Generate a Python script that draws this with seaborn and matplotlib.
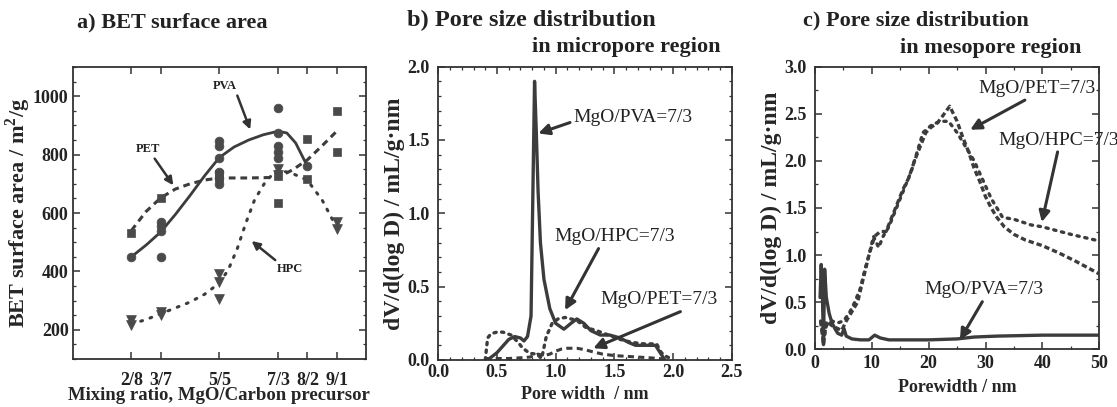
import numpy as np
import pandas as pd
import matplotlib
matplotlib.use("Agg")
import matplotlib.pyplot as plt
from matplotlib.ticker import MultipleLocator, FixedLocator, FormatStrFormatter
import seaborn as sns

# ---------------- Data ----------------
# Panel a: BET surface area vs mixing ratio (MgO fraction)
ratio_ticks = [0.2, 0.3, 0.5, 0.7, 0.8, 0.9]
ratio_labels = ["2/8", "3/7", "5/5", "7/3", "8/2", "9/1"]

pva_pts_x = [0.2, 0.3, 0.3, 0.3, 0.3, 0.5, 0.5, 0.5, 0.5, 0.5, 0.5, 0.7, 0.7, 0.7, 0.7, 0.7, 0.8]
pva_pts_y = [450, 570, 555, 540, 450, 845, 830, 790, 740, 720, 700, 960, 875, 830, 810, 790, 760]
pet_pts_x = [0.2, 0.3, 0.5, 0.5, 0.7, 0.7, 0.8, 0.8, 0.9, 0.9]
pet_pts_y = [533, 653, 735, 720, 727, 633, 852, 717, 949, 809]
hpc_pts_x = [0.2, 0.2, 0.3, 0.3, 0.5, 0.5, 0.5, 0.7, 0.7, 0.9, 0.9]
hpc_pts_y = [235, 215, 262, 252, 390, 365, 305, 750, 730, 570, 545]

pva_fit_x = [0.2, 0.25, 0.3, 0.35, 0.4, 0.45, 0.5, 0.55, 0.6, 0.65, 0.7, 0.73, 0.76, 0.8]
pva_fit_y = [450, 490, 535, 595, 660, 728, 790, 826, 850, 868, 880, 874, 840, 760]
pet_fit_x = [0.2, 0.25, 0.3, 0.35, 0.4, 0.45, 0.5, 0.6, 0.7, 0.75, 0.8, 0.85, 0.9]
pet_fit_y = [540, 605, 652, 682, 700, 713, 720, 720, 722, 748, 782, 830, 880]
hpc_fit_x = [0.2, 0.25, 0.3, 0.35, 0.4, 0.45, 0.5, 0.53, 0.56, 0.59, 0.62, 0.66, 0.7, 0.75, 0.8, 0.85, 0.9]
hpc_fit_y = [220, 235, 255, 275, 295, 322, 360, 405, 475, 565, 645, 712, 748, 735, 712, 645, 550]

# Panel b: micropore PSD
b_pva_x = [0.42, 0.5, 0.6, 0.65, 0.7, 0.73, 0.76, 0.79, 0.805, 0.82, 0.835, 0.85, 0.87, 0.9, 0.95, 1.0, 1.07,
           1.13, 1.18, 1.24, 1.3, 1.38, 1.46, 1.55, 1.62, 1.68, 1.75, 1.85, 1.89, 1.93]
b_pva_y = [0.0, 0.05, 0.14, 0.16, 0.15, 0.13, 0.16, 0.3, 1.1, 1.9, 1.55, 1.15, 0.8, 0.55, 0.35, 0.25, 0.21,
           0.25, 0.28, 0.25, 0.2, 0.17, 0.17, 0.15, 0.12, 0.1, 0.1, 0.1, 0.05, 0.0]
b_hpc_x = [0.4, 0.42, 0.45, 0.5, 0.55, 0.62, 0.68, 0.72, 0.78, 0.84, 0.88, 0.92, 0.97, 1.02, 1.08, 1.13,
           1.18, 1.26, 1.35, 1.45, 1.55, 1.65, 1.75, 1.86, 1.9, 1.95, 2.0]
b_hpc_y = [0.0, 0.15, 0.18, 0.19, 0.19, 0.17, 0.12, 0.08, 0.045, 0.04, 0.01, 0.16, 0.25, 0.28, 0.29, 0.28,
           0.27, 0.22, 0.2, 0.17, 0.14, 0.12, 0.11, 0.11, 0.05, 0.02, 0.01]
b_pet_x = [0.4, 0.5, 0.6, 0.7, 0.78, 0.85, 0.9, 0.95, 1.0, 1.05, 1.1, 1.18, 1.25, 1.32, 1.4, 1.5, 1.6, 1.7,
           1.8, 1.88, 1.95]
b_pet_y = [0.01, 0.01, 0.01, 0.015, 0.02, 0.04, 0.03, 0.04, 0.06, 0.075, 0.08, 0.08, 0.07, 0.055, 0.04, 0.03,
           0.025, 0.02, 0.015, 0.01, 0.0]

# Panel c: mesopore PSD
c_pva_x = [0.9, 1.1, 1.3, 1.5, 1.7, 2.0, 2.5, 3.0, 3.5, 4.0, 4.7, 5.1, 5.5, 6.5, 8.0, 9.5, 10.5, 11.5, 13,
           20, 25, 28, 32, 40, 50]
c_pva_y = [0.55, 0.9, 0.6, 0.05, 0.85, 0.55, 0.38, 0.28, 0.22, 0.17, 0.15, 0.22, 0.14, 0.11, 0.1, 0.1,
           0.15, 0.12, 0.1, 0.1, 0.11, 0.13, 0.14, 0.15, 0.15]
c_pet_x = [1.0, 1.5, 2.0, 3, 4, 4.7, 5.5, 6.5, 7.5, 8.5, 9.5, 10.5, 11.5, 12.5, 13.5, 14.5, 15.5, 16.5, 17.5,
           18.5, 19.5, 20.5, 21.5, 22.5, 23.7, 25, 26, 27, 28, 29, 30, 31, 32, 33.3, 35, 37, 40, 43, 46, 50]
c_pet_y = [0.3, 0.05, 0.3, 0.25, 0.22, 0.2, 0.3, 0.4, 0.5, 0.75, 1.0, 1.2, 1.25, 1.25, 1.4, 1.55, 1.7, 1.82,
           2.0, 2.15, 2.3, 2.36, 2.4, 2.48, 2.58, 2.42, 2.25, 2.1, 1.92, 1.78, 1.62, 1.5, 1.4, 1.3, 1.22,
           1.16, 1.1, 1.02, 0.93, 0.8]
c_hpc_x = [1.0, 1.5, 2.0, 3, 4, 5, 6, 7, 8, 8.8, 9.5, 10.3, 11.2, 12, 13, 14, 15, 16, 17, 18, 19, 20.5, 22,
           23.5, 25, 26.5, 28, 29.5, 31, 33, 35, 38, 40, 45, 50]
c_hpc_y = [0.3, 0.1, 0.25, 0.3, 0.28, 0.3, 0.38, 0.5, 0.65, 0.85, 1.0, 1.2, 1.08, 1.2, 1.3, 1.45, 1.6,
           1.75, 1.9, 2.1, 2.3, 2.38, 2.42, 2.42, 2.3, 2.15, 2.0, 1.8, 1.6, 1.4, 1.38, 1.32, 1.3, 1.22, 1.15]

# ---------------- Style ----------------
sns.set_theme(style="ticks")
SERIF = ["Liberation Serif", "DejaVu Serif"]
plt.rcParams["font.family"] = SERIF
plt.rcParams["mathtext.fontset"] = "custom"
plt.rcParams["mathtext.rm"] = "Liberation Serif:bold"
plt.rcParams["mathtext.bf"] = "Liberation Serif:bold"
plt.rcParams["axes.linewidth"] = 1.3
plt.rcParams["axes.edgecolor"] = "#333333"

LC = "#3c3c3c"
MC = "#4a4a4a"

fig = plt.figure(figsize=(11.17, 4.07), dpi=100)
axa = fig.add_axes([0.0651, 0.1179, 0.2626, 0.7175])
axb = fig.add_axes([0.3924, 0.1155, 0.2627, 0.7207])
axc = fig.add_axes([0.7296, 0.1418, 0.2545, 0.6944])


def style_axes(ax):
    ax.tick_params(which="both", direction="in", top=True, right=True, color="#333333")
    ax.tick_params(which="major", length=5, width=1.1)
    ax.tick_params(which="minor", length=2.5, width=0.9)
    for lab in ax.get_xticklabels() + ax.get_yticklabels():
        lab.set_fontweight("bold")
        lab.set_fontsize(13)
        lab.set_color("#222222")


arrow_kw = dict(arrowstyle="-|>", color="#333333", lw=2.2, mutation_scale=16, shrinkA=0, shrinkB=0)


def draw_line(ax, x, y, ls, lw, dashes=None):
    df = pd.DataFrame({"x": x, "y": y})
    sns.lineplot(data=df, x="x", y="y", ax=ax, sort=False, estimator=None, color=LC, lw=lw)
    l = ax.get_lines()[-1]
    if ls == "dashed":
        l.set_dashes(dashes or (3, 1.8))
    elif ls == "dotted":
        l.set_dashes(dashes or (0.8, 2.2))
        l.set_dash_capstyle("round")
    return l

# ---------------- Panel a ----------------
draw_line(axa, pva_fit_x, pva_fit_y, "solid", 2.0)
draw_line(axa, pet_fit_x, pet_fit_y, "dashed", 2.2, (2.2, 1.6))
draw_line(axa, hpc_fit_x, hpc_fit_y, "dotted", 2.2, (0.6, 2.6))

sns.scatterplot(x=pva_pts_x, y=pva_pts_y, ax=axa, marker="o", s=40, color=MC, edgecolor=MC, linewidth=0.5, zorder=3)
sns.scatterplot(x=pet_pts_x, y=pet_pts_y, ax=axa, marker="s", s=34, color=MC, edgecolor=MC, linewidth=0.5, zorder=3)
sns.scatterplot(x=hpc_pts_x, y=hpc_pts_y, ax=axa, marker="v", s=50, color=MC, edgecolor=MC, linewidth=0.5, zorder=3)

axa.set_xlim(0, 1.0)
axa.set_ylim(100, 1100)
axa.xaxis.set_major_locator(FixedLocator(ratio_ticks))
axa.set_xticklabels(ratio_labels)
axa.yaxis.set_major_locator(FixedLocator([200, 400, 600, 800, 1000]))
axa.yaxis.set_minor_locator(MultipleLocator(50))
axa.tick_params(axis="x", top=False)
axa.set_xlabel("Mixing ratio, MgO/Carbon precursor", fontsize=13.5, fontweight="bold")
axa.xaxis.set_label_coords(0.5, -0.097)
axa.set_ylabel("BET surface area / m$^2$/g", fontsize=16, fontweight="bold")
axa.yaxis.set_label_coords(-0.135, 0.5)
axa.tick_params(axis="y", pad=3)
axa.tick_params(axis="x", pad=9)
style_axes(axa)

lab_kw = dict(fontsize=9, fontweight="bold", ha="center", va="center", color="#222222")
axa.annotate("PVA", xy=(0.605, 886), xytext=(0.52, 1034), **lab_kw,
             arrowprops=dict(arrow_kw, lw=1.8, mutation_scale=12, relpos=(0.95, 0.0)))
axa.annotate("PET", xy=(0.343, 695), xytext=(0.255, 818), **lab_kw,
             arrowprops=dict(arrow_kw, lw=1.8, mutation_scale=12, relpos=(0.7, 0.0)))
axa.annotate("HPC", xy=(0.61, 504), xytext=(0.74, 407), **lab_kw,
             arrowprops=dict(arrow_kw, lw=1.8, mutation_scale=12, relpos=(0.1, 1.0)))

# ---------------- Panel b ----------------
draw_line(axb, b_pva_x, b_pva_y, "solid", 2.4)
draw_line(axb, b_hpc_x, b_hpc_y, "dotted", 2.4, (0.7, 1.6))
draw_line(axb, b_pet_x, b_pet_y, "dashed", 2.2, (2.0, 1.4))
axb.set_xlim(0, 2.5)
axb.set_ylim(0, 2.0)
axb.xaxis.set_major_locator(MultipleLocator(0.5))
axb.xaxis.set_minor_locator(MultipleLocator(0.1))
axb.yaxis.set_major_locator(MultipleLocator(0.5))
axb.yaxis.set_minor_locator(MultipleLocator(0.1))
axb.xaxis.set_major_formatter(FormatStrFormatter("%.1f"))
axb.yaxis.set_major_formatter(FormatStrFormatter("%.1f"))
axb.set_xlabel("Pore width  / nm", fontsize=13, fontweight="bold")
axb.xaxis.set_label_coords(0.5, -0.088)
axb.set_ylabel("dV/d(log D) / mL/g\u00b7nm", fontsize=17, fontweight="bold")
axb.yaxis.set_label_coords(-0.112, 0.5)
axb.tick_params(axis="y", pad=6)
axb.tick_params(axis="x", pad=3)
style_axes(axb)

ann_kw = dict(fontsize=14, ha="left", va="center", color="#222222")
axb.annotate("MgO/PVA=7/3", xy=(0.852, 1.545), xytext=(1.15, 1.65), **ann_kw,
             arrowprops=dict(arrow_kw, relpos=(0.0, 0.3)))
axb.annotate("MgO/HPC=7/3", xy=(1.08, 0.34), xytext=(0.99, 0.84), **ann_kw,
             arrowprops=dict(arrow_kw, relpos=(0.38, 0.0)))
axb.annotate("MgO/PET=7/3", xy=(1.32, 0.08), xytext=(1.38, 0.41), **ann_kw,
             arrowprops=dict(arrow_kw, relpos=(0.75, 0.0)))

# ---------------- Panel c ----------------
draw_line(axc, c_pva_x, c_pva_y, "solid", 2.4)
draw_line(axc, c_hpc_x, c_hpc_y, "dotted", 2.4, (0.7, 1.7))
draw_line(axc, c_pet_x, c_pet_y, "dashed", 2.4, (1.6, 0.9))
axc.set_xlim(0, 50)
axc.set_ylim(0, 3.0)
axc.xaxis.set_major_locator(MultipleLocator(10))
axc.xaxis.set_minor_locator(MultipleLocator(5))
axc.yaxis.set_major_locator(MultipleLocator(0.5))
axc.yaxis.set_minor_locator(MultipleLocator(0.25))
axc.yaxis.set_major_formatter(FormatStrFormatter("%.1f"))
axc.set_xlabel("Porewidth / nm", fontsize=13, fontweight="bold", labelpad=5)
axc.set_ylabel("dV/d(log D) / mL/g\u00b7nm", fontsize=17, fontweight="bold")
axc.yaxis.set_label_coords(-0.116, 0.5)
axc.tick_params(axis="y", pad=6)
axc.tick_params(axis="x", pad=4)
style_axes(axc)

axc.annotate("MgO/PET=7/3", xy=(27.3, 2.33), xytext=(28.7, 2.77), **ann_kw,
             arrowprops=dict(arrow_kw, relpos=(0.45, 0.0)))
axc.annotate("MgO/HPC=7/3", xy=(39.9, 1.35), xytext=(32.2, 2.22), **ann_kw,
             arrowprops=dict(arrow_kw, relpos=(0.5, 0.0)))
axc.annotate("MgO/PVA=7/3", xy=(25.5, 0.1), xytext=(19.3, 0.63), **ann_kw,
             arrowprops=dict(arrow_kw, relpos=(0.5, 0.0)))

# ---------------- Titles ----------------
tkw = dict(fontweight="bold", ha="left", va="center", color="#222222")
fig.text(76.7 / 1117, 1 - 22 / 407, "a) BET surface area", fontsize=16, **tkw)
fig.text(406.7 / 1117, 1 - 20 / 407, "b) Pore size distribution", fontsize=17.5, **tkw)
fig.text(531.7 / 1117, 1 - 47 / 407, "in micropore region", fontsize=16, **tkw)
fig.text(803.3 / 1117, 1 - 20 / 407, "c) Pore size distribution", fontsize=16, **tkw)
fig.text(900 / 1117, 1 - 48 / 407, "in mesopore region", fontsize=16, **tkw)

fig.savefig("out.png", dpi=100)
